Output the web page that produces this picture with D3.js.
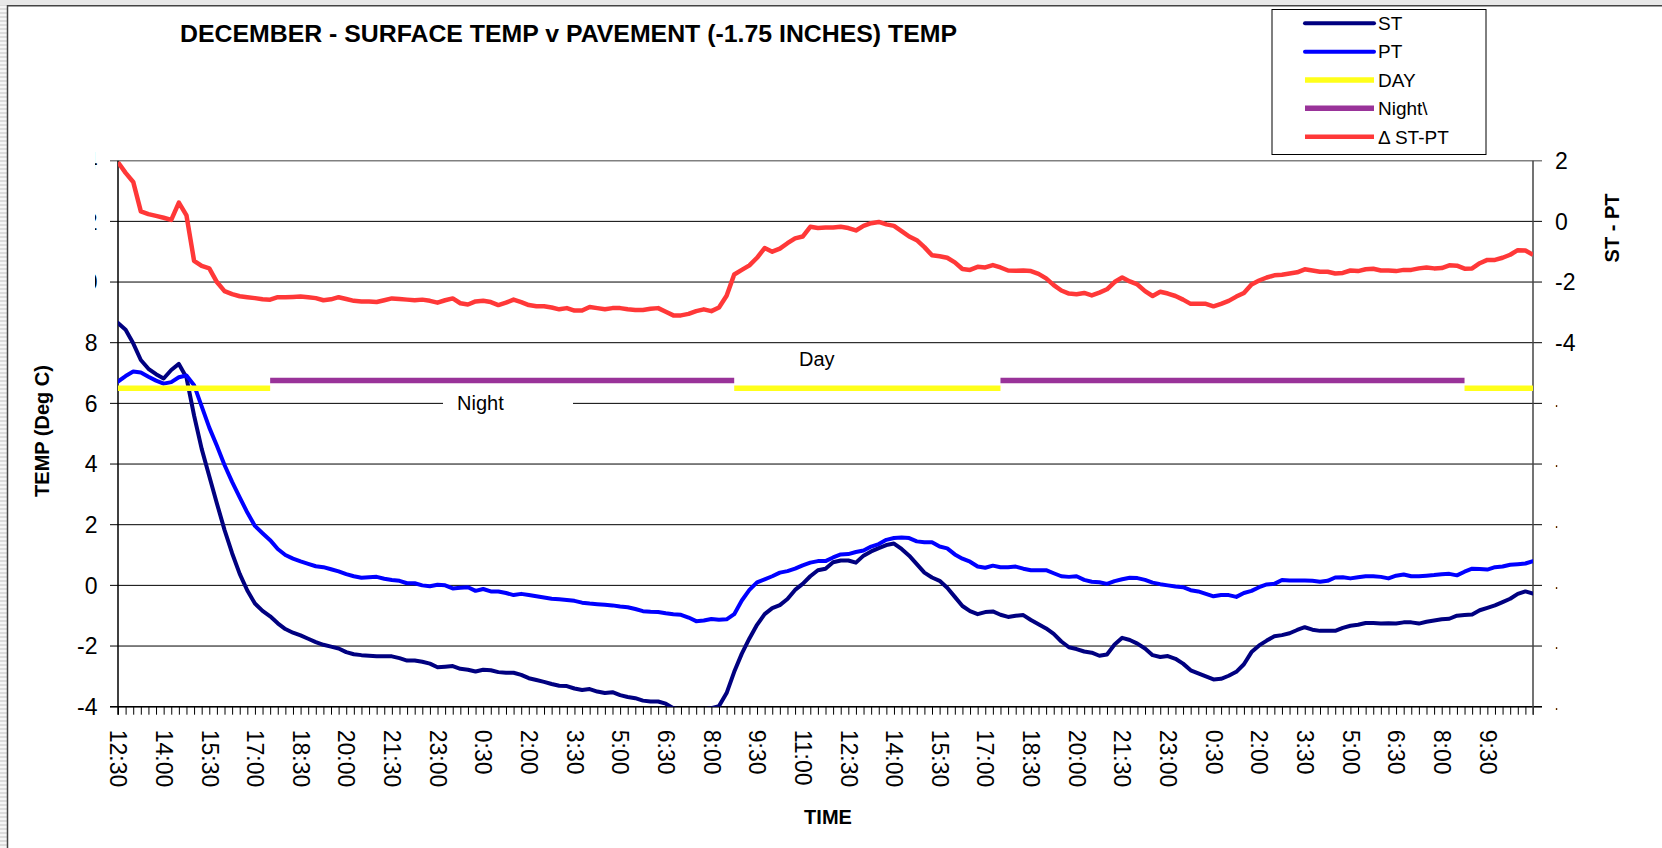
<!DOCTYPE html>
<html>
<head>
<meta charset="utf-8">
<script src="https://cdn.jsdelivr.net/npm/d3@7"></script>
<style>
  body { margin: 0; background: #fff; }
  text { font-family: "Liberation Sans", Arial, sans-serif; fill: #000; }
</style>
</head>
<body>
<svg id="chart" width="1662" height="848"></svg>
<script>
// ---------------- DATA ----------------
const chartTitle = "DECEMBER - SURFACE TEMP v PAVEMENT (-1.75 INCHES) TEMP";
// one category every 15 minutes, starting 12:30; a label every 6th category
const tickLabels = ["12:30","14:00","15:30","17:00","18:30","20:00","21:30","23:00","0:30","2:00",
  "3:30","5:00","6:30","8:00","9:30","11:00","12:30","14:00","15:30","17:00","18:30","20:00",
  "21:30","23:00","0:30","2:00","3:30","5:00","6:30","8:00","9:30"];
const labelEvery = 6;

// ST : surface temperature (deg C)
const ST = [8.65,8.43,7.98,7.43,7.14,6.96,6.82,7.1,7.3,6.85,
  5.6,4.5,3.6,2.7,1.83,1.06,0.38,-0.17,-0.6,-0.84,
  -1.02,-1.25,-1.44,-1.56,-1.65,-1.76,-1.87,-1.96,-2.02,-2.08,
  -2.2,-2.27,-2.3,-2.32,-2.34,-2.34,-2.34,-2.4,-2.48,-2.48,
  -2.52,-2.58,-2.7,-2.68,-2.66,-2.75,-2.78,-2.84,-2.78,-2.8,
  -2.86,-2.88,-2.88,-2.95,-3.06,-3.12,-3.18,-3.25,-3.31,-3.32,
  -3.4,-3.45,-3.42,-3.5,-3.55,-3.52,-3.62,-3.68,-3.72,-3.8,
  -3.83,-3.83,-3.9,-4.05,-4.1,-4.1,-4.12,-4.08,-4.05,-3.98,
  -3.55,-2.85,-2.25,-1.75,-1.3,-0.95,-0.75,-0.65,-0.45,-0.15,
  0.05,0.3,0.5,0.55,0.76,0.82,0.82,0.75,0.98,1.12,
  1.23,1.33,1.38,1.2,0.98,0.7,0.42,0.26,0.15,-0.08,
  -0.38,-0.68,-0.85,-0.95,-0.88,-0.86,-0.97,-1.04,-1.0,-0.98,
  -1.14,-1.28,-1.42,-1.6,-1.85,-2.04,-2.1,-2.18,-2.22,-2.32,
  -2.28,-1.95,-1.73,-1.8,-1.92,-2.08,-2.3,-2.36,-2.33,-2.42,
  -2.58,-2.8,-2.9,-3.0,-3.1,-3.08,-2.98,-2.85,-2.6,-2.2,
  -1.98,-1.82,-1.68,-1.64,-1.58,-1.47,-1.38,-1.46,-1.5,-1.5,
  -1.5,-1.4,-1.33,-1.3,-1.24,-1.24,-1.26,-1.25,-1.26,-1.22,
  -1.22,-1.26,-1.2,-1.16,-1.12,-1.1,-1.0,-0.98,-0.96,-0.82,
  -0.74,-0.66,-0.55,-0.44,-0.28,-0.2,-0.27];

// PT : pavement temperature at -1.75 in (deg C)
const PT = [6.72,6.9,7.05,7.02,6.88,6.75,6.65,6.7,6.86,6.92,
  6.6,5.9,5.2,4.6,3.97,3.41,2.9,2.4,1.96,1.72,
  1.49,1.2,1.0,0.88,0.79,0.71,0.63,0.6,0.53,0.46,
  0.37,0.3,0.25,0.27,0.28,0.22,0.18,0.15,0.07,0.07,
  0.0,-0.03,0.02,0.0,-0.1,-0.08,-0.06,-0.18,-0.12,-0.2,
  -0.2,-0.25,-0.32,-0.28,-0.32,-0.36,-0.4,-0.44,-0.46,-0.48,
  -0.51,-0.57,-0.6,-0.62,-0.64,-0.66,-0.7,-0.72,-0.78,-0.85,
  -0.87,-0.88,-0.92,-0.95,-0.97,-1.06,-1.18,-1.16,-1.11,-1.13,
  -1.12,-0.95,-0.5,-0.15,0.1,0.2,0.3,0.42,0.47,0.55,
  0.66,0.75,0.8,0.8,0.92,1.02,1.03,1.1,1.15,1.28,
  1.36,1.5,1.56,1.58,1.56,1.45,1.42,1.42,1.28,1.22,
  1.02,0.88,0.78,0.62,0.58,0.65,0.6,0.6,0.62,0.55,
  0.5,0.5,0.5,0.4,0.3,0.28,0.3,0.18,0.12,0.1,
  0.05,0.14,0.2,0.25,0.24,0.18,0.09,0.04,0.0,-0.04,
  -0.06,-0.16,-0.2,-0.28,-0.36,-0.32,-0.32,-0.38,-0.25,-0.18,
  -0.06,0.03,0.05,0.18,0.16,0.16,0.16,0.15,0.12,0.15,
  0.26,0.27,0.23,0.27,0.3,0.3,0.28,0.23,0.32,0.36,
  0.3,0.3,0.32,0.34,0.37,0.38,0.33,0.45,0.55,0.54,
  0.52,0.6,0.62,0.68,0.7,0.72,0.8];

// Δ ST-PT (secondary axis)
const DELTA = [1.95,1.6,1.3,0.33,0.24,0.18,0.12,0.05,0.62,0.2,
  -1.3,-1.47,-1.55,-2.0,-2.3,-2.4,-2.47,-2.5,-2.53,-2.57,
  -2.58,-2.5,-2.5,-2.49,-2.48,-2.5,-2.53,-2.6,-2.57,-2.5,
  -2.56,-2.62,-2.64,-2.64,-2.66,-2.6,-2.54,-2.56,-2.58,-2.6,
  -2.58,-2.62,-2.68,-2.6,-2.54,-2.7,-2.74,-2.64,-2.62,-2.66,
  -2.76,-2.68,-2.58,-2.66,-2.76,-2.8,-2.8,-2.84,-2.9,-2.86,
  -2.94,-2.94,-2.82,-2.86,-2.9,-2.86,-2.86,-2.9,-2.92,-2.92,
  -2.88,-2.86,-2.98,-3.1,-3.1,-3.05,-2.96,-2.9,-2.96,-2.84,
  -2.45,-1.75,-1.6,-1.45,-1.2,-0.88,-1.0,-0.9,-0.72,-0.56,
  -0.5,-0.18,-0.22,-0.2,-0.2,-0.18,-0.22,-0.3,-0.15,-0.06,
  -0.02,-0.1,-0.15,-0.32,-0.5,-0.62,-0.85,-1.12,-1.15,-1.2,
  -1.35,-1.57,-1.6,-1.5,-1.52,-1.44,-1.52,-1.62,-1.63,-1.62,
  -1.64,-1.73,-1.88,-2.1,-2.28,-2.38,-2.4,-2.36,-2.44,-2.35,
  -2.24,-2.0,-1.85,-1.98,-2.08,-2.3,-2.46,-2.32,-2.38,-2.46,
  -2.58,-2.72,-2.72,-2.72,-2.8,-2.72,-2.62,-2.48,-2.36,-2.08,
  -1.95,-1.85,-1.78,-1.76,-1.72,-1.68,-1.58,-1.62,-1.66,-1.66,
  -1.72,-1.7,-1.62,-1.64,-1.58,-1.56,-1.62,-1.62,-1.64,-1.6,
  -1.6,-1.55,-1.52,-1.55,-1.54,-1.45,-1.46,-1.56,-1.55,-1.38,
  -1.27,-1.27,-1.2,-1.1,-0.95,-0.96,-1.1];

// DAY / Night marker series: constant level over category ranges [from, to]
const dayLevel = 6.5;
const nightLevel = 6.75;
const dayRanges = [[0, 20], [81, 116], [177, 186]];
const nightRanges = [[20, 81], [116, 177]];

const leftTicks = [-4, -2, 0, 2, 4, 6, 8, 10, 12, 14];
const leftShownMax = 8;          // labels above this are cut off in the original
const rightTicks = [2, 0, -2, -4, -6, -8, -10, -12, -14, -16];
const rightShownMin = -4;        // labels below this are cut off in the original

const legendItems = [
  { name: "ST", key: "st" },
  { name: "PT", key: "pt" },
  { name: "DAY", key: "day" },
  { name: "Night\\", key: "night" },
  { name: "\u0394 ST-PT", key: "delta" }
];

// ---------------- STYLE ----------------
const style = {
  st:    { color: "#000080", width: 4,   cap: "round" },
  pt:    { color: "#0000ff", width: 4,   cap: "round" },
  day:   { color: "#ffff1a", width: 5.5, cap: "butt" },
  night: { color: "#993399", width: 5.5, cap: "butt" },
  delta: { color: "#ff3838", width: 4.5, cap: "butt" }
};

// ---------------- DRAW ----------------
const W = 1662, H = 848;
const svg = d3.select("#chart");
const P = { left: 118, right: 1533, top: 160.7, bottom: 706.7 };

const x = d3.scaleLinear().domain([0, ST.length - 1]).range([P.left, P.right]);
const y = d3.scaleLinear().domain([-4, 14]).range([P.bottom, P.top]);
const y2 = d3.scaleLinear().domain([-16, 2]).range([P.bottom, P.top]);

const defs = svg.append("defs");
const pat = defs.append("pattern").attr("id", "stripes")
  .attr("width", 8).attr("height", 4).attr("patternUnits", "userSpaceOnUse");
pat.append("rect").attr("width", 8).attr("height", 4).attr("fill", "#f6f6f6");
pat.append("rect").attr("width", 8).attr("height", 2).attr("fill", "#dcdcdc");
defs.append("clipPath").attr("id", "plotClip").append("rect")
  .attr("x", P.left).attr("y", P.top).attr("width", P.right - P.left).attr("height", P.bottom - P.top);
defs.append("clipPath").attr("id", "leftCut").append("rect")
  .attr("x", 95).attr("y", 0).attr("width", 2.5).attr("height", H);
defs.append("clipPath").attr("id", "rightCut").append("rect")
  .attr("x", 1555).attr("y", 0).attr("width", 2.2).attr("height", H);

svg.append("rect").attr("width", W).attr("height", H).attr("fill", "#fff");
// outer frame of the original chart object
svg.append("rect").attr("x", 0).attr("y", 0).attr("width", 7).attr("height", H).attr("fill", "url(#stripes)");
svg.append("rect").attr("x", 0).attr("y", 0).attr("width", W).attr("height", 5).attr("fill", "#e8e8e8");
svg.append("line").attr("x1", 7.5).attr("x2", 7.5).attr("y1", 5).attr("y2", H).attr("stroke", "#444").attr("stroke-width", 1.5);
svg.append("line").attr("x1", 7).attr("x2", W).attr("y1", 5.75).attr("y2", 5.75).attr("stroke", "#444").attr("stroke-width", 1.5);

// title
svg.append("text").attr("x", 180).attr("y", 42)
  .attr("font-size", 24).attr("font-weight", "bold")
  .attr("textLength", 777).attr("lengthAdjust", "spacingAndGlyphs")
  .text(chartTitle);

// gridlines (extend outward as ticks on both sides)
const grid = svg.append("g");
leftTicks.forEach(v => {
  grid.append("line")
    .attr("x1", 110).attr("x2", 1542)
    .attr("y1", y(v)).attr("y2", y(v))
    .attr("stroke", v === 14 ? "#808080" : "#000")
    .attr("stroke-width", v === 14 ? 1.5 : 1);
});

// "Night" annotation box (hides the gridline behind it)
svg.append("rect").attr("x", 443).attr("y", 393).attr("width", 130).attr("height", 22).attr("fill", "#fff");
svg.append("text").attr("x", 457).attr("y", 409.5).attr("font-size", 20).text("Night");
svg.append("text").attr("x", 799).attr("y", 366).attr("font-size", 20).text("Day");

// x axis ticks
const xAxis = d3.axisBottom(x)
  .tickValues(d3.range(0, ST.length))
  .tickSize(8)
  .tickFormat(i => (i % labelEvery === 0 && tickLabels[i / labelEvery] !== undefined) ? tickLabels[i / labelEvery] : "");
const gx = svg.append("g").attr("transform", `translate(0,${P.bottom})`).call(xAxis);
gx.select(".domain").remove();
gx.selectAll(".tick line").attr("stroke", "#000").attr("stroke-width", 1);
gx.selectAll(".tick text")
  .attr("transform", "rotate(90)")
  .attr("x", 23).attr("y", 0).attr("dy", "0.36em")
  .attr("text-anchor", "start")
  .attr("font-size", 23)
  .attr("font-family", "'Liberation Sans', Arial, sans-serif")
  .attr("fill", "#000");

// axes lines
svg.append("line").attr("x1", P.left).attr("x2", P.left).attr("y1", P.top).attr("y2", P.bottom + 8)
  .attr("stroke", "#000").attr("stroke-width", 1.5);
svg.append("line").attr("x1", 110).attr("x2", 1542).attr("y1", P.bottom).attr("y2", P.bottom)
  .attr("stroke", "#000").attr("stroke-width", 1.5);
svg.append("line").attr("x1", P.right).attr("x2", P.right).attr("y1", P.top).attr("y2", P.bottom + 8)
  .attr("stroke", "#444").attr("stroke-width", 1.5);

// left tick labels
leftTicks.forEach(v => {
  const t = svg.append("text")
    .attr("x", 97.5).attr("y", y(v)).attr("dy", "0.36em")
    .attr("text-anchor", "end").attr("font-size", 23)
    .text(v);
  if (v > leftShownMax) t.attr("clip-path", "url(#leftCut)");
});
// right tick labels
rightTicks.forEach(v => {
  const t = svg.append("text")
    .attr("x", 1555).attr("y", y2(v)).attr("dy", "0.36em")
    .attr("text-anchor", "start").attr("font-size", 23)
    .text(v);
  if (v < rightShownMin) t.attr("clip-path", "url(#rightCut)");
});

// axis titles
svg.append("text").attr("transform", "translate(49,431) rotate(-90)")
  .attr("text-anchor", "middle").attr("font-size", 20).attr("font-weight", "bold")
  .text("TEMP (Deg C)");
svg.append("text").attr("transform", "translate(1619,228) rotate(-90)")
  .attr("text-anchor", "middle").attr("font-size", 20).attr("font-weight", "bold")
  .text("ST - PT");
svg.append("text").attr("x", 828).attr("y", 824)
  .attr("text-anchor", "middle").attr("font-size", 20).attr("font-weight", "bold")
  .text("TIME");

// series
const series = svg.append("g").attr("clip-path", "url(#plotClip)");
const line1 = d3.line().x((d, i) => x(i)).y(d => y(d)).curve(d3.curveLinear);
const line2 = d3.line().x((d, i) => x(i)).y(d => y2(d)).curve(d3.curveLinear);

function drawPath(d, s, gen) {
  series.append("path").attr("d", gen(d))
    .attr("fill", "none").attr("stroke", s.color).attr("stroke-width", s.width)
    .attr("stroke-linejoin", "round").attr("stroke-linecap", s.cap);
}
drawPath(ST, style.st, line1);
drawPath(PT, style.pt, line1);

function drawRanges(ranges, level, s) {
  ranges.forEach(([a, b]) => {
    const idx = d3.range(a, b + 1);
    const gen = d3.line().x(i => x(i)).y(() => y(level));
    series.append("path").attr("d", gen(idx))
      .attr("fill", "none").attr("stroke", s.color).attr("stroke-width", s.width)
      .attr("stroke-linecap", "butt");
  });
}
drawRanges(dayRanges, dayLevel, style.day);
drawRanges(nightRanges, nightLevel, style.night);
drawPath(DELTA, style.delta, line2);

// legend
const lg = svg.append("g");
lg.append("rect").attr("x", 1272).attr("y", 9.5).attr("width", 214).attr("height", 145)
  .attr("fill", "#fff").attr("stroke", "#000").attr("stroke-width", 1);
legendItems.forEach((it, k) => {
  const yy = 23.3 + k * 28.35;
  const s = style[it.key];
  lg.append("line").attr("x1", 1305).attr("x2", 1374).attr("y1", yy).attr("y2", yy)
    .attr("stroke", s.color).attr("stroke-width", s.width).attr("stroke-linecap", s.cap);
  lg.append("text").attr("x", 1378).attr("y", yy).attr("dy", "0.36em")
    .attr("font-size", 19).text(it.name);
});
</script>
</body>
</html>
